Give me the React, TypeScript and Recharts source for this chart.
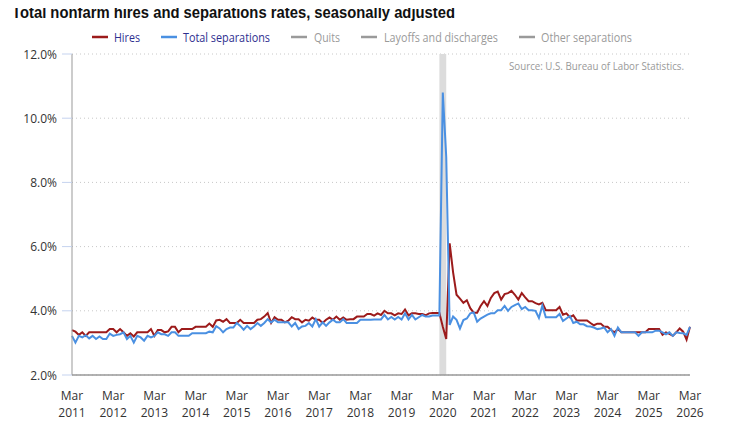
import React from "react";
import { LineChart, Line, XAxis, YAxis, CartesianGrid, ReferenceArea } from "recharts";

// Monthly series start in March 2011 (index 0) and run through March 2026 (index 180).
const START_YEAR = 2011;
const START_MONTH = 3;

const tickYears = [2011, 2012, 2013, 2014, 2015, 2016, 2017, 2018, 2019, 2020, 2021, 2022, 2023, 2024, 2025, 2026];
const tickMonthLabel = "Mar";
const yTicks = [2, 4, 6, 8, 10, 12];

// Hires rate, percent (each row = Mar..Feb)
const hires = [
  3.4, 3.35, 3.25, 3.33, 3.22, 3.33, 3.33, 3.33, 3.33, 3.33, 3.33, 3.43,
  3.43, 3.33, 3.43, 3.33, 3.22, 3.3, 3.2, 3.33, 3.33, 3.33, 3.33, 3.43,
  3.22, 3.4, 3.4, 3.33, 3.36, 3.5, 3.5, 3.33, 3.43, 3.43, 3.43, 3.43,
  3.5, 3.5, 3.5, 3.5, 3.6, 3.5, 3.7, 3.72, 3.66, 3.74, 3.62, 3.62,
  3.62, 3.72, 3.62, 3.62, 3.62, 3.62, 3.72, 3.74, 3.82, 3.93, 3.62, 3.8,
  3.72, 3.72, 3.64, 3.69, 3.8, 3.74, 3.74, 3.64, 3.72, 3.69, 3.79, 3.72,
  3.72, 3.62, 3.72, 3.79, 3.72, 3.82, 3.72, 3.79, 3.72, 3.74, 3.74, 3.82,
  3.82, 3.82, 3.9, 3.9, 3.85, 3.92, 3.87, 4.0, 3.92, 3.92, 3.86, 3.92,
  3.9, 4.04, 3.86, 3.92, 3.92, 3.9, 3.9, 3.86, 3.92, 3.93, 3.93, 3.93,
  3.5, 3.12, 6.1, 5.2, 4.5, 4.38, 4.25, 4.33, 4.08, 3.94, 3.94, 4.15,
  4.3, 4.15, 4.4, 4.55, 4.6, 4.35, 4.52, 4.55, 4.62, 4.5, 4.35, 4.55,
  4.42, 4.3, 4.3, 4.24, 4.2, 4.25, 4.02, 4.02, 4.02, 4.02, 4.12, 3.88,
  3.92, 3.8, 3.86, 3.7, 3.7, 3.7, 3.7, 3.62, 3.55, 3.6, 3.6, 3.5,
  3.5, 3.4, 3.33, 3.43, 3.33, 3.33, 3.33, 3.33, 3.33, 3.33, 3.33, 3.33,
  3.43, 3.43, 3.43, 3.43, 3.25, 3.33, 3.28, 3.22, 3.33, 3.45, 3.35, 3.1,
  3.5,
];

// Total separations rate, percent (each row = Mar..Feb)
const separations = [
  3.22, 3.01, 3.22, 3.17, 3.24, 3.14, 3.22, 3.12, 3.2, 3.12, 3.12, 3.29,
  3.22, 3.25, 3.27, 3.33, 3.12, 3.22, 3.01, 3.22, 3.17, 3.07, 3.22, 3.17,
  3.22, 3.33, 3.27, 3.27, 3.22, 3.33, 3.33, 3.22, 3.22, 3.22, 3.22, 3.3,
  3.3, 3.3, 3.3, 3.3, 3.35, 3.33, 3.52, 3.45, 3.33, 3.43, 3.48, 3.48,
  3.62, 3.53, 3.41, 3.53, 3.43, 3.51, 3.62, 3.53, 3.62, 3.74, 3.64, 3.72,
  3.64, 3.64, 3.64, 3.64, 3.51, 3.62, 3.43, 3.51, 3.53, 3.62, 3.51, 3.74,
  3.51, 3.64, 3.53, 3.64, 3.72, 3.64, 3.64, 3.74, 3.62, 3.62, 3.62, 3.62,
  3.72, 3.72, 3.72, 3.72, 3.73, 3.73, 3.73, 3.87, 3.73, 3.81, 3.73, 3.81,
  3.73, 3.92, 3.73, 3.87, 3.73, 3.8, 3.87, 3.82, 3.82, 3.85, 3.85, 3.85,
  10.8, 8.8, 3.56, 3.82, 3.72, 3.45, 3.71, 3.76, 3.92, 3.95, 3.66, 3.76,
  3.82, 3.88, 3.92, 3.92, 4.02, 4.02, 4.15, 4.0, 4.12, 4.18, 4.23, 4.05,
  4.12, 4.02, 4.02, 4.0, 3.78, 4.16, 3.8, 3.8, 3.8, 3.8, 3.9, 3.68,
  3.76, 3.84, 3.62, 3.66, 3.58, 3.58, 3.52, 3.51, 3.48, 3.43, 3.45, 3.48,
  3.33, 3.43, 3.22, 3.48, 3.33, 3.33, 3.33, 3.33, 3.33, 3.22, 3.33, 3.33,
  3.33, 3.33, 3.38, 3.38, 3.33, 3.27, 3.33, 3.22, 3.33, 3.31, 3.3, 3.25,
  3.5,
];

const legendItems = [
  { label: "Hires", color: "#9c1b1b", text: "#2e2e8f", x: 92, textX: 114, w: 26 },
  { label: "Total separations", color: "#4a90e2", text: "#2e2e8f", x: 161, textX: 183, w: 87 },
  { label: "Quits", color: "#9a9a9a", text: "#9a9a9a", x: 291, textX: 314, w: 26 },
  { label: "Layoffs and discharges", color: "#9a9a9a", text: "#9a9a9a", x: 361, textX: 384, w: 114 },
  { label: "Other separations", color: "#9a9a9a", text: "#9a9a9a", x: 519, textX: 541, w: 91 },
];

const monthIndex = (year: number, month: number) => (year - START_YEAR) * 12 + (month - START_MONTH);

// Recession shading, Feb 2020 to Apr 2020
const recessionStart = monthIndex(2020, 2);
const recessionEnd = monthIndex(2020, 4);

const data = hires.map((h, i) => ({ m: i, hires: h, separations: separations[i] }));
const xTicks = tickYears.map((y) => monthIndex(y, START_MONTH));

const FONT = "'Open Sans', 'Noto Sans', sans-serif";

const XTick = (props: any) => {
  const { x, y, payload } = props;
  const year = START_YEAR + Math.round(payload.value / 12);
  return (
    <g>
      <text x={x} y={y + 18} textAnchor="middle" dominantBaseline="central" fontFamily={FONT} fontSize={12} fill="#333">
        {tickMonthLabel}
      </text>
      <text x={x} y={y + 35} textAnchor="middle" dominantBaseline="central" fontFamily={FONT} fontSize={12} fill="#333">
        {year}
      </text>
    </g>
  );
};

const YTick = (props: any) => {
  const { x, y, payload } = props;
  return (
    <text x={x} y={y} textAnchor="end" dominantBaseline="central" fontFamily={FONT} fontSize={12} fill="#333">
      {`${Number(payload.value).toFixed(1)}%`}
    </text>
  );
};

export default function App() {
  return (
    <div style={{ position: "relative", width: 720, height: 411 }}>
      <LineChart width={720} height={411} data={data} margin={{ top: 46, right: 38, bottom: 4, left: 0 }}>
        <CartesianGrid vertical={false} stroke="#c8c8c8" strokeDasharray="1 3" />
        <ReferenceArea x1={recessionStart} x2={recessionEnd} fill="#dcdcdc" fillOpacity={1} stroke="none" />
        <XAxis
          type="number"
          dataKey="m"
          domain={[0, 180]}
          ticks={xTicks}
          tickLine={false}
          tickSize={0}
          height={40}
          axisLine={{ stroke: "#999", strokeWidth: 1.5 }}
          tick={<XTick />}
          interval={0}
        />
        <YAxis
          domain={[2, 12]}
          ticks={yTicks}
          width={64}
          tickSize={10}
          tickMargin={5}
          tickLine={{ stroke: "#c5d3ef" }}
          axisLine={{ stroke: "#999" }}
          tick={<YTick />}
          interval={0}
        />
        <Line type="linear" dataKey="hires" stroke="#9c1b1b" strokeWidth={2} dot={false} isAnimationActive={false} />
        <Line type="linear" dataKey="separations" stroke="#4a90e2" strokeWidth={2} dot={false} isAnimationActive={false} />
      </LineChart>
      <svg
        width={736}
        height={427}
        style={{ position: "absolute", left: -8, top: -8, pointerEvents: "none" }}
      >
        <text
          x={12}
          y={18}
          fontFamily="'Liberation Sans', Arial, sans-serif"
          fontWeight="bold"
          fontSize={16.5}
          fill="#111"
          textLength={443}
          lengthAdjust="spacingAndGlyphs"
        >
          Total nonfarm hires and separations rates, seasonally adjusted
        </text>
        {legendItems.map((it) => (
          <g key={it.label}>
            <line x1={it.x} x2={it.x + 16} y1={37} y2={37} stroke={it.color} strokeWidth={2.5} />
            <text
              x={it.textX}
              y={37}
              dominantBaseline="central"
              fontFamily={FONT}
              fontSize={12}
              fill={it.text}
              textLength={it.w}
              lengthAdjust="spacingAndGlyphs"
            >
              {it.label}
            </text>
          </g>
        ))}
        <text
          x={684}
          y={65}
          textAnchor="end"
          dominantBaseline="central"
          fontFamily={FONT}
          fontSize={11}
          fill="#999"
          textLength={175}
          lengthAdjust="spacingAndGlyphs"
        >
          Source: U.S. Bureau of Labor Statistics.
        </text>
      </svg>
    </div>
  );
}
